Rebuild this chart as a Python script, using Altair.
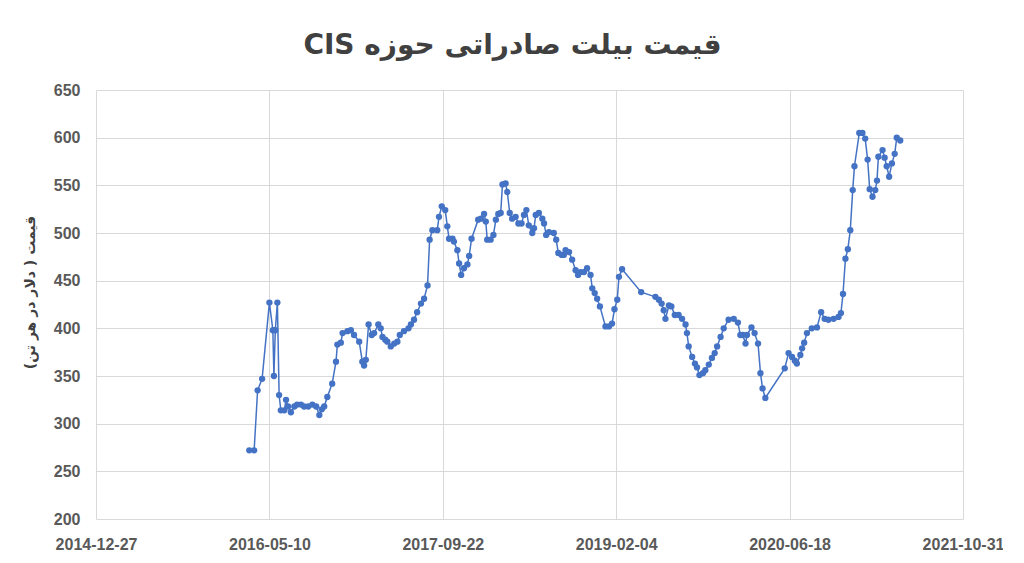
import altair as alt
import pandas as pd

# Days since 2014-12-27 (Excel serial 42000)
days = [442, 456, 466, 479, 500, 510, 513, 517, 523, 528, 533, 543, 548, 554, 562, 572, 580, 591, 600, 612,
        624, 635, 644, 651, 658, 667, 681, 692, 696, 706, 711, 725, 735, 744, 759, 768, 773, 778, 786, 795,
        802, 814, 821, 826, 834, 840, 850, 860, 869, 876, 888, 901, 908, 917, 926, 937, 946, 956, 962, 970,
        984, 989, 997, 1007, 1013, 1018, 1028, 1032, 1042, 1047, 1053, 1061, 1071, 1076, 1083, 1102, 1110, 1119, 1124, 1128,
        1138, 1146, 1153, 1160, 1167, 1172, 1181, 1186, 1193, 1200, 1210, 1218, 1227, 1234, 1241, 1248, 1258, 1263, 1268, 1277,
        1287, 1292, 1298, 1306, 1320, 1327, 1333, 1343, 1349, 1354, 1364, 1373, 1383, 1390, 1397, 1407, 1416, 1426, 1431, 1438,
        1445, 1453, 1469, 1479, 1488, 1495, 1503, 1508, 1517, 1572, 1613, 1623, 1631, 1637, 1642, 1652, 1659, 1669, 1680, 1690,
        1700, 1704, 1709, 1719, 1727, 1733, 1740, 1750, 1757, 1767, 1776, 1784, 1791, 1801, 1810, 1824, 1839, 1851, 1858, 1865,
        1873, 1877, 1890, 1899, 1909, 1916, 1922, 1930, 1986, 1997, 2007, 2015, 2021, 2031, 2036, 2042, 2050, 2064, 2079, 2091,
        2101, 2112, 2127, 2141, 2148, 2154, 2161, 2168, 2175, 2182, 2187, 2201, 2210, 2218, 2225, 2231, 2239, 2247, 2252, 2256,
        2268, 2274, 2280, 2287, 2295, 2303, 2309, 2319]

prices = [272, 272, 335, 347, 427, 398, 350, 398, 427, 330, 314, 314, 325, 318, 312, 318, 320, 320, 318, 318,
          320, 318, 309, 315, 318, 328, 342, 365, 383, 385, 395, 397, 398, 393, 386, 365, 361, 367, 404, 393,
          395, 404, 400, 391, 388, 386, 381, 384, 386, 393, 397, 400, 404, 409, 417, 426, 431, 445, 493, 503,
          503, 517, 528, 524, 507, 494, 494, 491, 482, 468, 456, 463, 467, 476, 494, 514, 515, 520, 512, 493,
          493, 498, 514, 520, 521, 551, 552, 543, 521, 515, 517, 510, 510, 519, 524, 508, 500, 505, 519, 521,
          515, 510, 498, 501, 500, 493, 479, 477, 477, 482, 480, 472, 461, 456, 459, 459, 463, 456, 442, 437,
          431, 423, 402, 402, 405, 420, 430, 454, 462, 438, 433, 430, 426, 419, 410, 424, 423, 414, 414, 410,
          404, 395, 381, 370, 363, 359, 351, 353, 356, 362, 369, 374, 381, 391, 400, 409, 410, 406, 393, 393,
          384, 393, 401, 395, 384, 353, 337, 327, 358, 374, 370, 366, 363, 372, 379, 385, 395, 400, 401, 417,
          410, 409, 410, 412, 416, 436, 473, 483, 503, 545, 570, 605, 605, 599, 577, 546, 538, 545, 555, 580,
          587, 579, 570, 559, 573, 583, 600, 597]

ORIGIN_SERIAL = 42000  # 2014-12-27 in Excel serial numbers
x_ticks = [42000, 42500, 43000, 43500, 44000, 44500]
y_ticks = [200, 250, 300, 350, 400, 450, 500, 550, 600, 650]

df = pd.DataFrame({"serial": [ORIGIN_SERIAL + d for d in days], "price": prices})

# right-to-left embedding so that "CIS" ends up at the left, as in the original
title_text = "\u202bقیمت بیلت صادراتی حوزه CIS\u202c"
y_title = "قیمت ( دلار در هر تن)"

grid_color = "#D9D9D9"
label_color = "#595959"

chart = alt.Chart(df).mark_line(
    color="#4472C4",
    strokeWidth=1.5,
    point=alt.OverlayMarkDef(filled=True, size=40, color="#4472C4", opacity=1),
).encode(
    x=alt.X(
        "serial:Q",
        scale=alt.Scale(domain=[42000, 44500], nice=False, zero=False),
        axis=alt.Axis(
            values=x_ticks,
            labelExpr="utcFormat((datum.value - 25569) * 86400000, '%Y-%m-%d')",
            title=None,
            grid=True,
            gridColor=grid_color,
            gridWidth=1,
            domain=False,
            ticks=False,
            labelFont="Liberation Sans",
            labelFontWeight="bold",
            labelFontSize=16,
            labelColor=label_color,
            labelPadding=17,
            labelOverlap=False,
            labelFlush=False,
        ),
    ),
    y=alt.Y(
        "price:Q",
        scale=alt.Scale(domain=[200, 650], nice=False, zero=False),
        axis=alt.Axis(
            values=y_ticks,
            title=y_title,
            titleFont="DejaVu Sans",
            titleFontSize=14,
            titleFontWeight="bold",
            titleColor="#404040",
            titleAngle=270,
            titleX=-66,
            titleY=202,
            titleAlign="center",
            titleBaseline="middle",
            grid=True,
            gridColor=grid_color,
            gridWidth=1,
            domain=False,
            ticks=False,
            labelFont="Liberation Sans",
            labelFontWeight="bold",
            labelFontSize=16,
            labelColor=label_color,
            labelPadding=16,
        ),
    ),
).properties(
    width=867,
    height=429,
    title=alt.TitleParams(
        text=title_text,
        font="DejaVu Sans",
        fontSize=28,
        fontWeight="bold",
        color="#404040",
        anchor="middle",
        baseline="alphabetic",
        offset=38,
        dx=-17,
        dy=38,
    ),
    autosize=alt.AutoSizeParams(type="none"),
    padding={"left": 88, "top": 82, "right": 40, "bottom": 40},
).configure_view(stroke=None)

chart.save("out.html", embed_options={"renderer": "svg", "actions": False})
